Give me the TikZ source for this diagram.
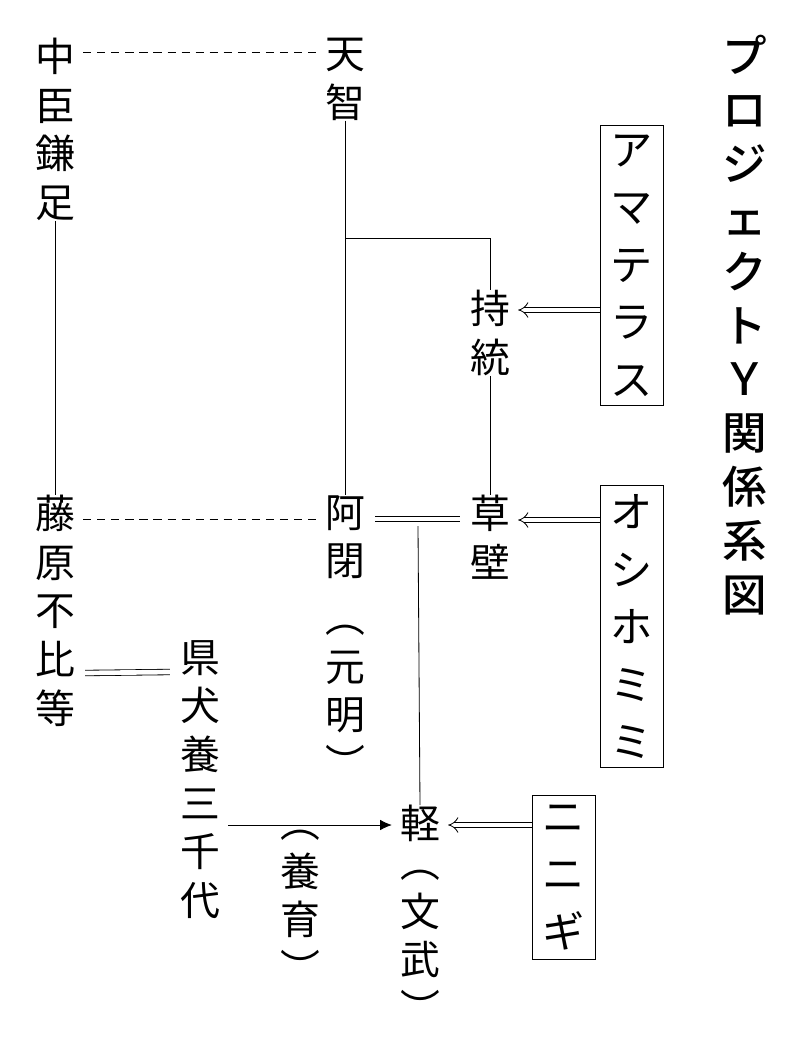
\documentclass[tikz,border=0pt]{standalone}
\usepackage{fontspec}
\setmainfont{Noto Sans CJK JP}
\newfontfamily\titlefont{Noto Sans CJK JP Medium}
\usetikzlibrary{calc}
\usetikzlibrary{arrows.meta}

\begin{document}
\begin{tikzpicture}[x=0.03cm,y=-0.03cm,
	person/.style={inner sep=0pt,anchor=north,align=center,
		font=\fontsize{34}{41.5}\selectfont},
	godbox/.style={person,draw,line width=0.8pt,inner xsep=9pt,inner ysep=8pt,anchor=north,
		font=\fontsize{36}{49}\selectfont},
	kin/.style={line width=0.7pt},
	marriage/.style={kin,dashed,dash pattern=on 7pt off 5pt},
	wed/.style={kin,double,double distance=4pt},
	incarnate/.style={kin,double,double distance=4pt,-{Implies[length=9pt,width=14pt]}}]

\useasboundingbox (0,0) rectangle (800,1053);

% people
\node[person] (kamatari) at (55,38) {中\\臣\\鎌\\足};
\node[person] (tenji) at (345,38) {天\\智};
\node[person] (jito) at (490,290) {持\\統};
\node[person] (ahe) at (345,495) {阿\\閉};
\node[person] (genmei) at (345,625) {︵\\元\\明\\︶};
\node[person] (kusakabe) at (490,495) {草\\壁};
\node[person] (fuhito) at (55,495) {藤\\原\\不\\比\\等};
\node[person] (michiyo) at (200,640) {県\\犬\\養\\三\\千\\代};
\node[person] (karu) at (420,805) {軽};
\node[person] (monmu) at (420,870) {︵\\文\\武\\︶};
\node[person] (yoiku) at (300,830) {︵\\養\\育\\︶};

% gods
\node[godbox] (amaterasu) at (632,125) {ア\\マ\\テ\\ラ\\ス};
\node[godbox] (oshihomimi) at (632,485) {オ\\シ\\ホ\\ミ\\ミ};
\node[godbox] (ninigi) at (564,795) {ニ\\ニ\\ギ};

% title
\node[person,font=\fontsize{38}{46}\selectfont\titlefont] (title) at (745,35)
	{プ\\ロ\\ジ\\ェ\\ク\\ト\\Ｙ\\関\\係\\系\\図};

% lines
\draw[marriage] ($(kamatari.north east)+(8,14)$) -- ($(tenji.north west)+(-8,14)$);
\draw[marriage] ($(fuhito.north east)+(8,24)$) -- ($(ahe.north west)+(-8,24)$);
\draw[kin] (kamatari.south) -- (fuhito.north);
\draw[kin] (tenji.south) -- (ahe.north);
\draw[kin] (345,238) -| (jito.north);
\draw[kin] (jito.south) -- (kusakabe.north);
\draw[wed] ($(ahe.north east)+(10,24)$) -- ($(kusakabe.north west)+(-10,24)$);
\draw[kin] (418,526) -- (karu.north);
\draw[wed] ($(fuhito.north east)+(10,178)$) -- ($(michiyo.north west)+(-10,32)$);
\draw[kin,-{Latex[length=10pt,width=9pt]}] ($(michiyo.north east)+(8,185)$) -- ($(karu.north west)+(-8,20)$);

% incarnations
\coordinate (jitoin) at ($(jito.north east)+(8,20)$);
\coordinate (kusakabein) at ($(kusakabe.north east)+(8,25)$);
\coordinate (karuin) at ($(karu.north east)+(8,20)$);
\draw[incarnate] (amaterasu.west |- jitoin) -- (jitoin);
\draw[incarnate] (oshihomimi.west |- kusakabein) -- (kusakabein);
\draw[incarnate] (ninigi.west |- karuin) -- (karuin);

\end{tikzpicture}
\end{document}
